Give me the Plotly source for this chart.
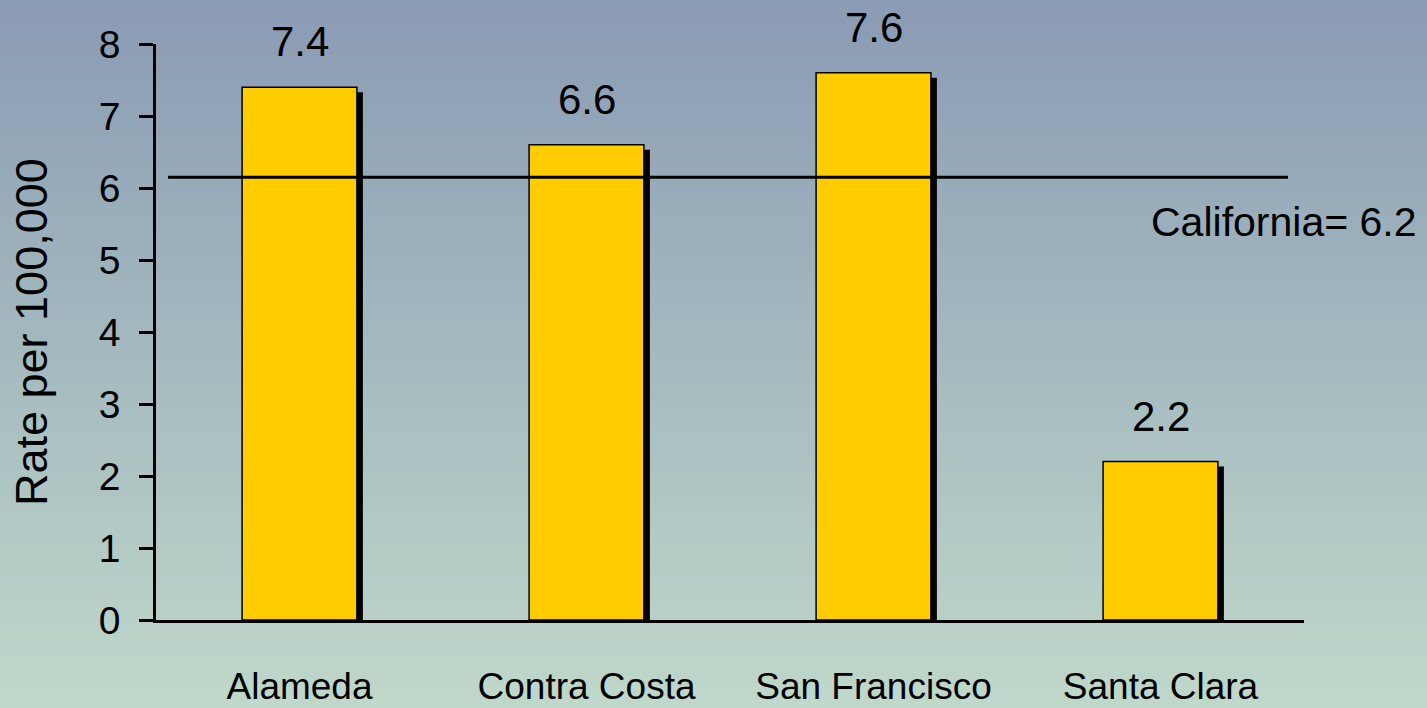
import plotly.graph_objects as go

# ---- data ----
counties = ["Alameda", "Contra Costa", "San Francisco", "Santa Clara"]
rates = [7.4, 6.6, 7.6, 2.2]
rate_labels = ["7.4", "6.6", "7.6", "2.2"]
ca_rate = 6.15
ca_label = "California= 6.2"
y_ticks = [0, 1, 2, 3, 4, 5, 6, 7, 8]
y_title = "Rate per 100,000"

FONT = "Liberation Sans, Arial, sans-serif"
W, H = 1427, 708
ML, MR, MT, MB = 156, 123, 44, 88
PW, PH = W - ML - MR, H - MT - MB

BAR_W = 0.4
SHADOW_DX = 6 / (PW / 4)      # in category units
SHADOW_DY = 5 / (PH / 8)      # in value units

fig = go.Figure()

# shadow bars
fig.add_trace(go.Bar(
    x=counties, y=[v - SHADOW_DY for v in rates],
    width=BAR_W, offset=-BAR_W / 2 + SHADOW_DX,
    marker=dict(color="black", line=dict(width=0)),
    hoverinfo="skip", showlegend=False,
))
# main bars
fig.add_trace(go.Bar(
    x=counties, y=rates,
    width=BAR_W, offset=-BAR_W / 2,
    marker=dict(color="#FFCC00", line=dict(color="black", width=1.5)),
    showlegend=False,
))

# gradient background bands
top = (0x8A, 0x9B, 0xB4)
bot = (0xBF, 0xD8, 0xCA)
N = 90
y0p, y1p = -MB / PH, 1 + MT / PH
x0p, x1p = -ML / PW, 1 + MR / PW
shapes = []
for i in range(N):
    t = i / (N - 1)
    c = tuple(round(top[k] + (bot[k] - top[k]) * t) for k in range(3))
    ya = y1p - (y1p - y0p) * i / N
    yb = y1p - (y1p - y0p) * (i + 1) / N
    shapes.append(dict(type="rect", xref="paper", yref="paper",
                       x0=x0p, x1=x1p, y0=yb - 0.002, y1=ya,
                       fillcolor="rgb(%d,%d,%d)" % c, line=dict(width=0),
                       layer="below"))
# California reference line
shapes.append(dict(type="line", xref="paper", yref="y",
                   x0=12 / PW, x1=1132 / PW, y0=ca_rate, y1=ca_rate,
                   line=dict(color="black", width=3), layer="above"))

annotations = []
for c, v, lab in zip(counties, rates, rate_labels):
    annotations.append(dict(x=c, y=v, text=lab, showarrow=False,
                            yanchor="bottom", yshift=20,
                            font=dict(family=FONT, size=42, color="black")))
annotations.append(dict(xref="paper", x=1.1, y=5.53, text=ca_label,
                        showarrow=False, xanchor="right", yanchor="middle",
                        font=dict(family=FONT, size=41, color="black")))
annotations.append(dict(xref="paper", yref="paper", x=(31 - ML) / PW, y=0.5,
                        text=y_title, textangle=-90, showarrow=False,
                        xanchor="center", yanchor="middle",
                        font=dict(family=FONT, size=45, color="black")))

fig.update_layout(
    width=W, height=H,
    margin=dict(l=ML, r=MR, t=MT, b=MB, autoexpand=False),
    paper_bgcolor="#A6B8C2", plot_bgcolor="rgba(0,0,0,0)",
    barmode="overlay", bargap=0.6,
    shapes=shapes, annotations=annotations,
    font=dict(family=FONT, color="black"),
    xaxis=dict(type="category", range=[-0.5, 3.5], showline=True,
               linecolor="black", linewidth=3, ticks="", showgrid=False,
               zeroline=False, ticklabelstandoff=32,
               tickfont=dict(family=FONT, size=37, color="black"),
               automargin=False),
    yaxis=dict(range=[0, 8], tickvals=y_ticks, showline=True,
               linecolor="black", linewidth=2.5, ticks="outside", ticklen=14,
               tickwidth=2.5, tickcolor="black", showgrid=False,
               zeroline=False, ticklabelstandoff=11,
               tickfont=dict(family=FONT, size=39, color="black"),
               automargin=False),
)

fig.write_html("out.html", config={"displayModeBar": False},
               post_script="document.body.style.margin='0';document.body.style.overflow='hidden';")
